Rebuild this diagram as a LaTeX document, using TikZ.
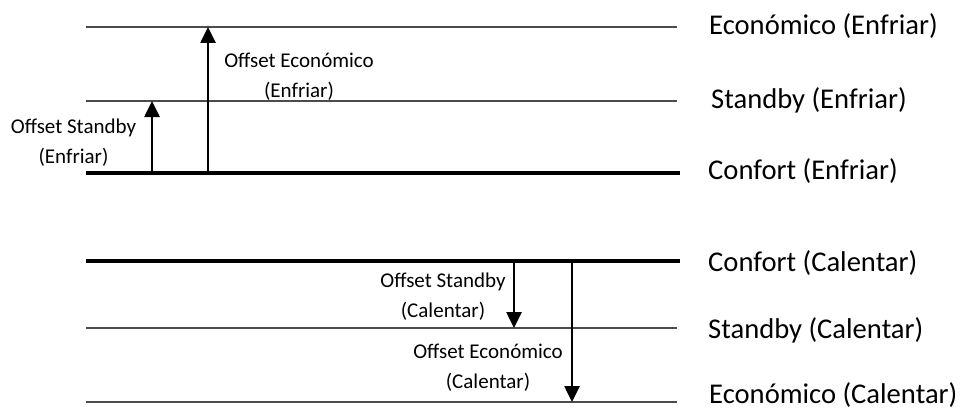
\documentclass[tikz,border=0pt]{standalone}
\usepackage{fontspec}
\setmainfont{Carlito}
\usetikzlibrary{arrows.meta}
\begin{document}
\begin{tikzpicture}[x=1pt,y=-1pt,
  thinlvl/.style={line width=1.4pt,draw=black!70},
  thicklvl/.style={line width=4pt,draw=black},
  offarrow/.style={line width=2.6pt,-{Triangle[width=15pt,length=16pt]}},
  biglbl/.style={anchor=base west,inner sep=0pt,font=\fontsize{28.6}{34}\selectfont},
  smalllbl/.style={anchor=base,inner sep=0pt,font=\fontsize{21}{30}\selectfont}]
\useasboundingbox (0,0) rectangle (965,409);
% level lines
\coordinate (e1a) at (86,27);  \coordinate (e1b) at (677,27);
\coordinate (s1a) at (86,101); \coordinate (s1b) at (677,101);
\coordinate (c1a) at (86,173); \coordinate (c1b) at (680,173);
\coordinate (c2a) at (86,261); \coordinate (c2b) at (680,261);
\coordinate (s2a) at (86,328); \coordinate (s2b) at (677,328);
\coordinate (e2a) at (86,402); \coordinate (e2b) at (677,402);
\draw[thinlvl] (e1a) -- (e1b);
\draw[thinlvl] (s1a) -- (s1b);
\draw[thicklvl] (c1a) -- (c1b);
\draw[thicklvl] (c2a) -- (c2b);
\draw[thinlvl] (s2a) -- (s2b);
\draw[thinlvl] (e2a) -- (e2b);
% right labels
\node[biglbl] (le1) at (709,35) {Económico (Enfriar)};
\node[biglbl] (ls1) at (711,108) {Standby (Enfriar)};
\node[biglbl] (lc1) at (708,179) {Confort (Enfriar)};
\node[biglbl] (lc2) at (708,271) {Confort (Calentar)};
\node[biglbl] (ls2) at (708,338) {Standby (Calentar)};
\node[biglbl] (le2) at (709,403) {Económico (Calentar)};
% arrows
\coordinate (as1a) at (152,173); \coordinate (as1b) at (152,101);
\coordinate (ae1a) at (208,173); \coordinate (ae1b) at (208,27);
\coordinate (as2a) at (514,261); \coordinate (as2b) at (514,328);
\coordinate (ae2a) at (572,261); \coordinate (ae2b) at (572,402);
\draw[offarrow] (as1a) -- (as1b);
\draw[offarrow] (ae1a) -- (ae1b);
\draw[offarrow] (as2a) -- (as2b);
\draw[offarrow] (ae2a) -- (ae2b);
% offset labels
\node[smalllbl] (os1a) at (73.5,133) {Offset Standby};
\node[smalllbl] (os1b) at (73.5,163) {(Enfriar)};
\node[smalllbl] (oe1a) at (299,68) {Offset Económico};
\node[smalllbl] (oe1b) at (299,98) {(Enfriar)};
\node[smalllbl] (os2a) at (443,287) {Offset Standby};
\node[smalllbl] (os2b) at (443,317) {(Calentar)};
\node[smalllbl] (oe2a) at (488,358) {Offset Económico};
\node[smalllbl] (oe2b) at (488,388) {(Calentar)};
\end{tikzpicture}
\end{document}
